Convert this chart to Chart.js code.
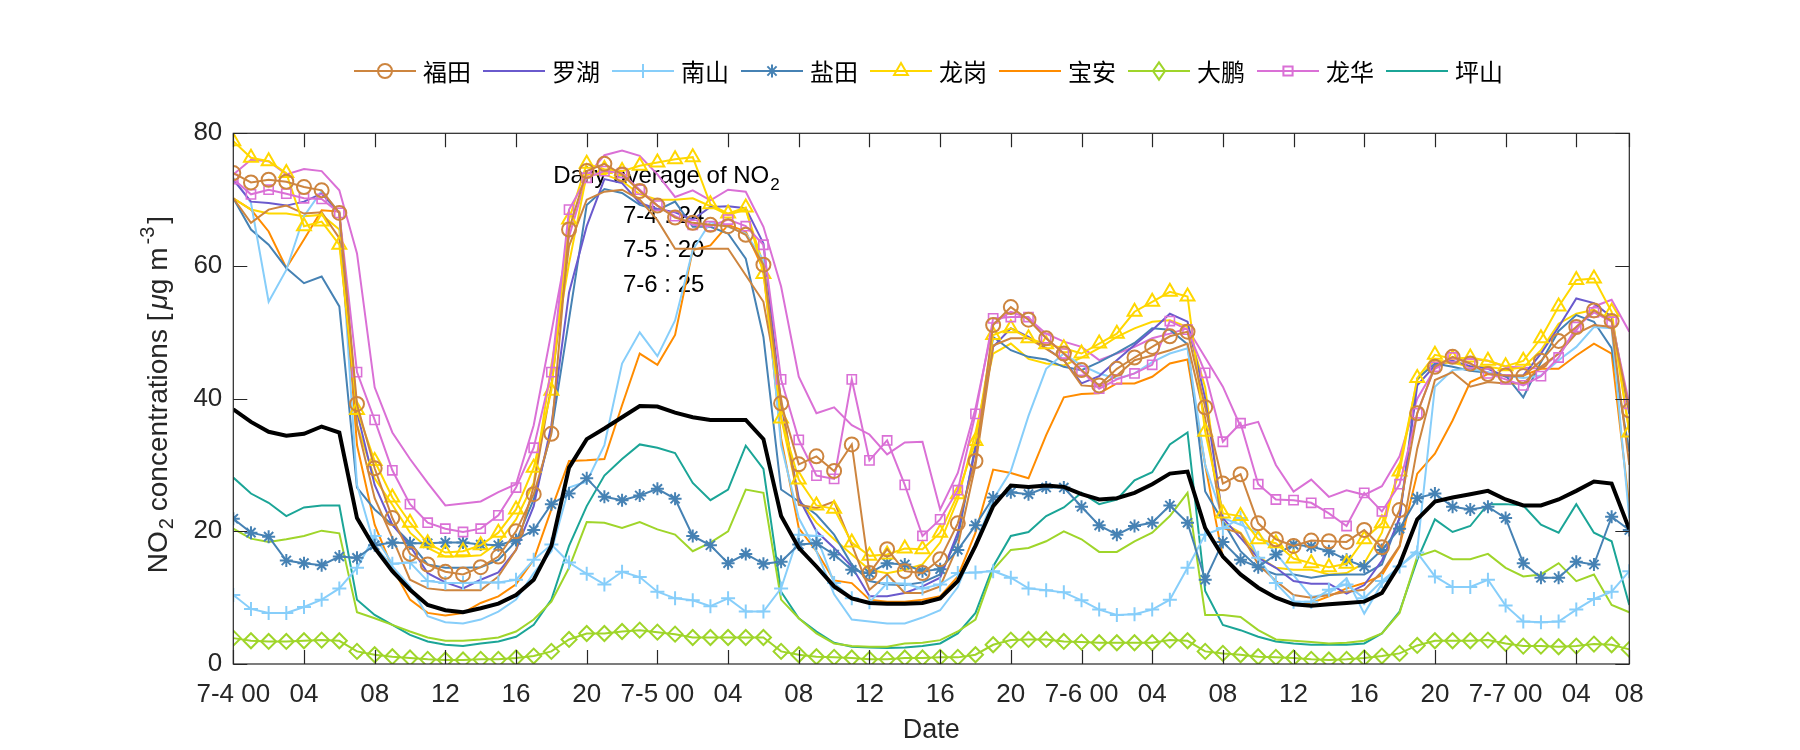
<!DOCTYPE html>
<html lang="zh">
<head>
  <meta charset="UTF-8" />
  <title>NO2 concentrations, Shenzhen districts</title>
  <script src="https://cdn.jsdelivr.net/npm/chart.js"></script>
  <style>
    html, body { margin: 0; padding: 0; background: #fff; }
    #wrap { position: relative; width: 1800px; height: 750px; }
    #legend {
      position: absolute; left: 354px; top: 58px; height: 26px;
      display: flex; align-items: center;
      font-family: "Noto Sans CJK SC", sans-serif; font-size: 24px; line-height: 26px; color: #000;
    }
    .item { display: flex; align-items: center; margin-right: 12px; }
    .item canvas { margin-right: 7px; }
    .item span { display: inline-block; width: 48px; }
  </style>
</head>
<body>
<div id="wrap">
  <canvas id="chart" width="1800" height="750"></canvas>
  <div id="legend"></div>
</div>

<script>
  // x axis: hourly index 0..79, labelled every 4 hours plus the last point
  const xTickPos = [0, 4, 8, 12, 16, 20, 24, 28, 32, 36, 40, 44, 48, 52, 56, 60, 64, 68, 72, 76, 79];
  const xTickLabels = ['7-4 00', '04', '08', '12', '16', '20', '7-5 00', '04', '08', '12', '16', '20',
                       '7-6 00', '04', '08', '12', '16', '20', '7-7 00', '04', '08'];
  const yTicks = [0, 20, 40, 60, 80];

  const legendNames = ['福田', '罗湖', '南山', '盐田', '龙岗', '宝安', '大鹏', '龙华', '坪山'];
  const dailyAvg = ['7-4 : 24', '7-5 : 20', '7-6 : 25'];

  // average of all stations (thick black)
  const avgAll = [38.4,36.5,35.0,34.4,34.7,35.8,34.9,22.0,17.5,14.0,
    11.2,8.9,8.1,7.8,8.4,9.1,10.4,12.7,17.8,29.6,
    33.9,35.5,37.2,38.9,38.8,37.9,37.2,36.8,36.8,36.8,
    33.9,22.3,17.5,14.7,11.7,9.9,9.2,9.1,9.1,9.2,
    9.9,12.5,17.8,23.8,26.9,26.7,26.9,26.7,25.6,24.8,
    25.0,25.8,27.1,28.7,29.0,20.5,16.2,13.5,11.5,10.0,
    9.0,8.8,9.0,9.2,9.4,10.7,15.0,21.8,24.5,25.1,
    25.6,26.1,24.8,23.9,23.9,24.8,26.1,27.5,27.2,20.3];

  const futian1 = [74.0,72.6,73.0,72.7,71.9,71.4,68.0,39.2,29.5,22.0,
    16.6,15.0,13.9,13.5,14.6,16.2,20.0,25.6,34.7,65.5,
    74.3,75.4,73.8,71.3,69.1,67.3,66.5,66.2,66.0,64.7,
    60.2,39.3,30.1,31.3,29.1,33.1,13.7,17.3,14.0,13.7,
    15.8,21.2,30.6,51.1,53.8,51.9,49.1,46.8,44.3,42.0,
    44.5,46.2,47.8,49.4,50.1,38.7,27.2,28.6,21.2,18.8,
    17.8,18.6,18.5,18.4,20.2,17.6,23.2,37.8,44.8,46.3,
    45.3,43.7,43.5,43.4,45.7,48.7,50.8,53.3,51.7,38.2];

  const futian2 = [70.2,66.5,68.5,69.1,67.9,68.1,64.2,36.0,25.0,19.0,
    12.7,11.4,11.1,11.1,11.1,13.2,17.2,26.8,42.0,63.0,
    70.0,71.2,71.5,70.0,66.9,62.6,62.6,62.6,62.6,58.6,
    54.6,40.0,24.0,23.5,24.5,18.0,11.2,13.5,10.7,10.7,
    11.7,17.8,30.0,48.0,49.1,49.1,47.5,45.8,42.0,41.8,
    43.5,45.8,46.5,47.3,48.3,37.0,20.5,19.7,15.0,12.5,
    10.4,10.0,10.4,10.9,11.2,13.9,17.8,32.5,42.8,44.0,
    41.8,42.5,42.3,42.3,44.8,46.8,49.8,51.1,50.8,30.0];

  const luohu = [73.0,69.7,69.5,69.1,69.7,70.9,68.0,38.0,27.0,21.0,
    17.8,13.7,12.3,11.4,12.7,13.8,17.2,23.8,36.0,56.0,
    66.0,73.1,72.5,69.5,68.6,68.1,67.0,68.9,69.0,68.7,
    63.4,39.2,25.0,20.0,17.5,14.7,10.2,10.2,10.7,11.7,
    13.0,19.8,32.4,47.8,50.6,49.3,47.6,45.8,42.3,43.4,
    45.8,48.1,50.3,52.8,51.6,40.0,22.0,19.0,16.0,14.5,
    12.5,12.1,12.1,10.6,11.9,15.6,22.0,42.0,45.0,45.7,
    44.9,44.5,43.3,43.5,46.8,50.8,55.1,54.4,52.3,37.7];

  const nanshan1 = [10.4,8.3,7.7,7.7,8.6,9.7,11.4,14.5,19.3,15.1,
    15.3,12.5,12.2,12.2,12.3,12.3,12.7,15.7,18.0,15.3,
    13.6,12.0,13.9,13.1,10.9,9.9,9.6,8.7,9.9,7.9,
    7.9,11.4,19.5,19.3,12.2,9.9,9.3,12.2,12.1,11.4,
    12.0,13.7,13.8,14.0,13.0,11.4,11.1,10.8,9.6,8.2,
    7.4,7.5,8.2,9.7,14.5,19.5,20.5,22.0,16.0,12.2,
    9.4,9.4,11.2,12.0,9.9,12.5,14.7,16.8,13.2,11.6,
    11.6,12.7,8.8,6.4,6.3,6.4,8.2,9.8,10.9,14.0];

  const nanshan2 = [73.3,69.5,54.6,59.4,67.5,71.3,68.0,27.0,17.8,14.7,
    11.7,7.2,6.3,6.1,6.7,7.9,9.7,13.7,17.0,26.6,
    27.5,33.0,45.3,50.0,46.4,51.8,62.4,66.6,65.9,64.9,
    60.9,33.0,22.0,17.0,10.5,6.7,6.4,6.1,6.1,7.0,
    8.1,11.6,18.2,24.8,29.1,37.4,44.5,46.8,45.0,43.8,
    43.0,43.8,45.5,46.8,47.6,30.0,22.0,21.0,19.7,16.7,
    13.4,10.1,10.6,12.9,7.6,12.1,14.7,17.2,41.8,44.3,
    44.5,44.0,43.4,43.1,43.5,45.8,47.8,50.8,50.6,22.0];

  const yantian1 = [21.9,19.8,19.2,15.6,15.2,14.9,16.2,16.0,17.9,18.3,
    18.2,18.2,18.3,18.3,18.0,17.9,18.7,20.2,24.1,25.7,
    28.0,25.2,24.7,25.4,26.4,24.9,19.3,17.9,15.2,16.6,
    15.1,15.4,18.0,18.2,16.5,14.2,13.7,15.2,15.0,14.0,
    14.3,17.2,20.9,25.1,25.9,25.6,26.6,26.6,23.7,20.9,
    19.5,20.8,21.3,23.9,21.3,12.7,18.4,15.7,14.6,16.5,
    18.0,17.7,17.0,15.7,14.7,17.2,20.4,25.0,25.7,23.7,
    23.3,23.7,22.0,15.2,13.0,13.0,15.4,15.0,22.2,20.2];

  const yantian2 = [70.2,65.5,63.2,59.7,57.4,58.4,53.9,26.6,23.3,21.0,
    18.3,15.0,14.5,14.5,14.6,15.7,18.5,24.8,35.0,52.0,
    69.2,71.6,71.0,69.2,68.4,69.7,65.9,65.9,64.9,61.1,
    49.3,26.3,24.5,22.5,19.5,15.0,12.5,12.0,11.9,12.3,
    13.5,19.0,33.0,49.3,47.3,46.3,45.9,44.8,44.3,45.5,
    46.9,48.4,50.6,50.4,48.2,26.0,21.5,17.0,14.5,13.5,
    13.5,13.0,13.4,13.5,13.5,15.0,22.0,43.0,45.3,44.8,
    44.2,43.9,43.5,40.2,45.5,50.2,52.6,51.6,47.6,32.0];

  const longgang1 = [78.8,76.3,75.8,74.0,66.0,66.7,63.2,38.3,30.6,25.1,
    21.3,18.2,16.8,17.0,17.9,19.8,23.3,29.6,41.2,67.0,
    75.4,74.6,74.3,75.1,75.6,76.1,76.4,69.3,67.9,68.8,
    58.8,37.0,27.8,23.9,23.4,18.3,16.3,16.5,17.4,17.3,
    19.8,25.6,33.6,49.6,50.6,49.1,48.2,47.6,46.8,48.3,
    49.8,53.1,54.6,56.1,55.4,35.0,22.7,22.3,18.8,18.2,
    15.9,15.2,14.6,15.1,18.8,21.2,29.0,43.1,46.6,46.0,
    46.2,45.7,44.9,45.7,49.1,53.9,57.9,58.1,53.1,34.9];

  const longgang2 = [70.2,68.5,67.9,67.9,67.5,67.7,65.5,36.0,28.0,24.0,
    19.8,17.5,16.2,16.2,16.4,18.3,21.8,27.3,45.0,60.4,
    73.8,73.8,72.8,70.8,70.0,70.0,70.2,69.0,67.7,68.5,
    60.2,37.2,24.8,21.3,18.8,16.5,14.2,13.7,14.2,15.0,
    18.3,24.8,34.9,46.8,48.3,46.0,45.3,45.0,46.2,47.6,
    49.3,50.6,51.6,51.8,50.8,41.7,21.3,19.8,16.2,14.5,
    14.2,14.2,13.5,13.7,15.2,19.8,29.9,42.8,45.8,45.4,
    44.8,44.8,44.4,44.7,47.3,51.3,52.8,53.4,51.8,35.0];

  const baoan = [70.2,68.5,65.2,59.7,64.0,68.4,68.2,33.0,21.0,14.5,
    9.7,7.7,7.3,7.7,9.2,10.2,12.0,15.7,23.3,30.6,
    30.7,30.9,39.0,46.8,45.1,49.6,62.4,63.1,66.2,65.2,
    59.4,34.0,20.5,17.0,12.6,12.2,9.7,9.4,9.4,9.7,
    10.2,13.2,19.8,29.3,28.8,28.0,34.5,40.2,40.7,40.8,
    42.3,42.3,43.3,45.3,45.9,30.0,16.0,13.5,11.5,10.0,
    8.9,9.2,10.2,11.4,12.2,13.4,17.7,28.7,31.7,36.7,
    42.5,43.7,43.5,43.5,44.5,44.5,46.5,48.3,46.8,23.8];

  const dapeng1 = [3.9,3.5,3.4,3.4,3.5,3.6,3.5,1.9,1.4,1.1,
    0.9,0.7,0.6,0.6,0.7,0.7,0.9,1.2,1.9,3.7,
    4.6,4.6,4.9,5.1,4.8,4.5,4.0,4.0,4.0,4.0,
    4.0,1.9,1.4,1.1,1.0,0.9,0.7,0.7,0.9,0.9,
    1.0,1.0,1.4,2.9,3.6,3.7,3.7,3.4,3.3,3.2,
    3.2,3.2,3.2,3.6,3.5,1.9,1.6,1.4,1.1,1.0,
    0.9,0.7,0.6,0.7,0.9,1.2,1.6,2.8,3.5,3.5,
    3.5,3.6,3.1,2.7,2.7,2.6,2.7,3.0,2.9,2.2];

  const dapeng2 = [20.4,18.9,18.4,18.8,19.3,20.1,19.7,7.8,6.9,5.9,
    4.9,4.0,3.5,3.5,3.7,4.0,4.9,6.7,9.4,14.5,
    21.4,21.3,20.5,21.4,20.3,19.5,17.0,18.3,20.0,26.3,
    25.8,9.7,6.9,4.6,3.1,2.7,2.6,2.6,3.1,3.2,
    3.6,4.9,6.7,14.2,17.2,17.5,18.5,20.0,18.8,16.9,
    16.9,18.5,19.8,22.3,25.8,7.4,7.4,7.1,5.1,3.7,
    3.5,3.3,3.1,3.2,3.5,4.6,7.7,16.2,17.1,15.8,
    15.8,16.6,14.5,13.2,13.5,15.2,12.5,13.5,8.9,7.8];

  const longhua1 = [73.1,70.8,71.5,70.9,70.2,70.1,68.0,44.0,36.8,29.2,
    24.1,21.3,20.4,19.9,20.4,22.4,26.6,32.6,44.0,68.5,
    73.3,74.3,74.0,71.5,69.1,67.5,66.2,66.0,67.0,66.0,
    63.2,42.9,33.8,28.4,27.9,42.9,30.7,33.7,27.0,19.3,
    21.8,26.2,37.7,52.1,52.3,52.3,49.1,46.8,44.2,41.5,
    42.9,43.8,45.1,51.7,50.4,43.9,33.5,36.3,27.1,24.8,
    24.7,24.3,22.7,20.8,25.8,23.0,27.1,37.8,44.8,46.2,
    45.3,43.8,42.9,42.0,43.4,46.2,50.8,53.0,51.6,39.2];

  const longhua2 = [73.8,76.0,75.8,73.8,74.6,74.3,71.4,61.9,41.7,34.9,
    30.9,27.3,23.9,24.2,24.5,25.9,27.1,36.0,50.0,64.4,
    73.5,76.7,77.4,76.6,73.8,70.4,71.4,69.9,71.5,71.2,
    65.9,56.9,43.3,37.8,38.7,36.0,34.6,31.6,33.4,33.5,
    23.3,28.8,38.5,51.3,53.1,52.1,49.8,48.6,47.8,45.8,
    46.8,47.8,49.1,49.8,50.6,46.2,41.8,35.8,36.5,30.0,
    26.0,27.8,25.2,26.2,25.5,26.8,31.3,40.0,44.5,46.0,
    46.0,45.7,44.8,44.7,44.5,46.8,50.3,53.9,54.9,50.1];

  const pingshan = [28.1,25.7,24.3,22.3,23.6,23.9,23.9,9.7,7.4,5.9,
    4.4,3.4,2.9,2.7,3.1,3.4,4.1,5.9,9.7,17.8,
    23.8,28.4,30.9,33.1,32.6,31.8,27.3,24.7,26.3,32.9,
    29.4,10.9,6.9,4.9,3.2,2.6,2.5,2.4,2.5,2.7,
    3.1,4.6,7.7,14.7,19.3,19.9,22.3,23.6,25.8,24.1,
    24.8,27.7,28.9,33.1,34.9,11.0,5.9,5.1,4.1,3.4,
    3.1,2.9,2.9,2.9,3.1,4.6,7.9,15.7,21.8,19.9,
    20.8,24.1,24.1,23.9,21.0,19.8,24.1,19.8,18.5,8.9];

  // ---- styles ----
  const FONT = '"Liberation Sans", Arial, sans-serif';
  const AXIS = '#262626';
  const TICK_SIZE = 26;
  const LABEL_SIZE = 27;
  const YLABEL_SIZE = 28;
  const col = {
    futian: '#CD853F', luohu: '#6A5ACD', nanshan: '#87CEFA', yantian: '#4682B4', longgang: '#FFD700',
    baoan: '#FF8C00', dapeng: '#9FD52A', longhua: '#DA70D6', pingshan: '#1BA597'
  };

  // first in list is drawn on top
  const series = [
    { data: avgAll, color: '#000', width: 4 },
    { data: futian1, color: col.futian, marker: 'circle', r: 7 },
    { data: longhua1, color: col.longhua, marker: 'rect', r: 6.5, pw: 1.6 },
    { data: longgang1, color: col.longgang, marker: 'triangle', r: 8 },
    { data: yantian1, color: col.yantian, marker: 'star', r: 6.5 },
    { data: nanshan1, color: col.nanshan, marker: 'cross', r: 7 },
    { data: dapeng1, color: col.dapeng, marker: 'rectRot', r: 7.5 },
    { data: futian2, color: col.futian },
    { data: luohu, color: col.luohu },
    { data: nanshan2, color: col.nanshan },
    { data: yantian2, color: col.yantian },
    { data: longgang2, color: col.longgang },
    { data: baoan, color: col.baoan },
    { data: dapeng2, color: col.dapeng },
    { data: longhua2, color: col.longhua },
    { data: pingshan, color: col.pingshan }
  ];

  const legendItems = [
    { color: col.futian, marker: 'circle', r: 7 },
    { color: col.luohu },
    { color: col.nanshan, marker: 'cross', r: 7 },
    { color: col.yantian, marker: 'star', r: 6.5 },
    { color: col.longgang, marker: 'triangle', r: 8 },
    { color: col.baoan },
    { color: col.dapeng, marker: 'rectRot', r: 7.5 },
    { color: col.longhua, marker: 'rect', r: 6.5 },
    { color: col.pingshan }
  ];

  const datasets = series.map(s => ({
    data: s.data.map((v, i) => ({ x: i, y: v })),
    borderColor: s.color,
    borderWidth: s.width || 2,
    pointStyle: s.marker || 'circle',
    pointRadius: s.marker ? s.r : 0,
    pointHoverRadius: s.marker ? s.r : 0,
    pointBorderColor: s.color,
    pointBackgroundColor: 'rgba(0,0,0,0)',
    pointBorderWidth: s.pw || 2,
    fill: false,
    tension: 0
  }));

  function drawMarker(g, style, x, y, r) {
    g.beginPath();
    if (style === 'circle') g.arc(x, y, r, 0, Math.PI * 2);
    if (style === 'cross') { g.moveTo(x - r, y); g.lineTo(x + r, y); g.moveTo(x, y - r); g.lineTo(x, y + r); }
    if (style === 'star') {
      for (let k = 0; k < 4; k++) {
        const a = k * Math.PI / 4;
        g.moveTo(x - r * Math.cos(a), y - r * Math.sin(a));
        g.lineTo(x + r * Math.cos(a), y + r * Math.sin(a));
      }
    }
    if (style === 'triangle') { g.moveTo(x, y - r); g.lineTo(x + r * 0.866, y + r * 0.5); g.lineTo(x - r * 0.866, y + r * 0.5); g.closePath(); }
    if (style === 'rectRot') { g.moveTo(x, y - r * 1.15); g.lineTo(x + r * 0.8, y); g.lineTo(x, y + r * 1.15); g.lineTo(x - r * 0.8, y); g.closePath(); }
    if (style === 'rect') { const h = r * Math.SQRT1_2; g.rect(x - h, y - h, 2 * h, 2 * h); }
    g.stroke();
  }

  // legend (line sample + marker + name)
  const legendEl = document.getElementById('legend');
  legendNames.forEach((name, k) => {
    const it = legendItems[k];
    const item = document.createElement('div');
    item.className = 'item';
    const c = document.createElement('canvas');
    c.width = 62; c.height = 26;
    const g = c.getContext('2d');
    g.strokeStyle = it.color; g.lineWidth = 2;
    g.beginPath(); g.moveTo(0, 13); g.lineTo(62, 13); g.stroke();
    if (it.marker) drawMarker(g, it.marker, 31, 13, it.r);
    const t = document.createElement('span');
    t.textContent = name;
    item.appendChild(c); item.appendChild(t);
    legendEl.appendChild(item);
  });

  // draws text runs (with sub/superscripts) centred on x
  function richText(g, parts, x, y) {
    let w = 0;
    parts.forEach(p => {
      g.font = (p.it ? 'italic ' : '') + p.s + 'px ' + FONT;
      p.w = g.measureText(p.t).width + (p.gap || 0);
      w += p.w;
    });
    let cx = x - w / 2;
    parts.forEach(p => {
      g.font = (p.it ? 'italic ' : '') + p.s + 'px ' + FONT;
      g.fillText(p.t, cx + (p.pre || 0), y + (p.dy || 0));
      cx += p.w;
    });
  }

  const annotPlugin = {
    id: 'annot',
    beforeDatasetsDraw(chart) {
      const g = chart.ctx, xs = chart.scales.x, ys = chart.scales.y;
      g.save();
      g.fillStyle = '#000';
      g.textAlign = 'left'; g.textBaseline = 'alphabetic';
      g.font = '24px ' + FONT;
      const tx = xs.getPixelForValue(18.1), ty = ys.getPixelForValue(72.5);
      const head = 'Daily average of NO';
      g.fillText(head, tx, ty);
      const hw = g.measureText(head).width;
      g.font = '17px ' + FONT;
      g.fillText('2', tx + hw + 1, ty + 7);
      g.font = '24px ' + FONT;
      const lx = xs.getPixelForValue(22.05);
      [66.5, 61.3, 56.1].forEach((v, k) => g.fillText(dailyAvg[k], lx, ys.getPixelForValue(v)));
      g.restore();
    },
    afterDatasetsDraw(chart) {
      const g = chart.ctx, a = chart.chartArea, xs = chart.scales.x, ys = chart.scales.y;
      const tl = 14;
      g.save();
      g.strokeStyle = AXIS; g.lineWidth = 1.2;
      g.strokeRect(a.left, a.top, a.right - a.left, a.bottom - a.top);
      g.beginPath();
      xTickPos.forEach(v => {
        const px = Math.round(xs.getPixelForValue(v)) + 0.5;
        g.moveTo(px, a.bottom); g.lineTo(px, a.bottom - tl);
        g.moveTo(px, a.top); g.lineTo(px, a.top + tl);
      });
      yTicks.forEach(v => {
        const py = Math.round(ys.getPixelForValue(v)) + 0.5;
        g.moveTo(a.left, py); g.lineTo(a.left + tl, py);
        g.moveTo(a.right, py); g.lineTo(a.right - tl, py);
      });
      g.stroke();

      // axis titles
      g.fillStyle = AXIS;
      g.textAlign = 'left'; g.textBaseline = 'middle';
      g.font = LABEL_SIZE + 'px ' + FONT;
      const dw = g.measureText('Date').width;
      g.fillText('Date', (a.left + a.right) / 2 - dw / 2, 731);

      g.translate(159, (a.top + a.bottom) / 2 - 4);
      g.rotate(-Math.PI / 2);
      g.textBaseline = 'middle';
      richText(g, [
        { t: 'NO', s: YLABEL_SIZE }, { t: '2', s: 20, dy: 8, pre: 2, gap: 5 },
        { t: 'concentrations [', s: YLABEL_SIZE, pre: 4, gap: 5 },
        { t: 'μ', s: YLABEL_SIZE, it: true, pre: 3, gap: 3 }, { t: 'g m', s: YLABEL_SIZE },
        { t: '-3', s: 20, dy: -11, pre: 3, gap: 6 }, { t: ']', s: YLABEL_SIZE }
      ], 0, 0);
      g.restore();
    }
  };

  new Chart(document.getElementById('chart'), {
    type: 'line',
    data: { datasets },
    options: {
      responsive: false,
      animation: false,
      devicePixelRatio: 1,
      layout: { padding: { left: 0, right: 170.7, top: 133.3, bottom: 0 } },
      plugins: { legend: { display: false }, tooltip: { enabled: false } },
      scales: {
        x: {
          type: 'linear', min: 0, max: 79,
          grid: { display: false, drawTicks: false },
          border: { display: false },
          afterBuildTicks: s => { s.ticks = xTickPos.map(v => ({ value: v })); },
          afterFit: s => { s.height = 86; },
          ticks: {
            autoSkip: false, maxRotation: 0, padding: 15, color: AXIS,
            font: { family: FONT, size: TICK_SIZE },
            callback: (v, i) => xTickLabels[i]
          }
        },
        y: {
          min: 0, max: 80,
          grid: { display: false, drawTicks: false },
          border: { display: false },
          afterBuildTicks: s => { s.ticks = yTicks.map(v => ({ value: v })); },
          afterFit: s => { s.width = 233.3; },
          ticks: { padding: 11, color: AXIS, font: { family: FONT, size: TICK_SIZE } }
        }
      }
    },
    plugins: [annotPlugin]
  });
</script>
</body>
</html>
